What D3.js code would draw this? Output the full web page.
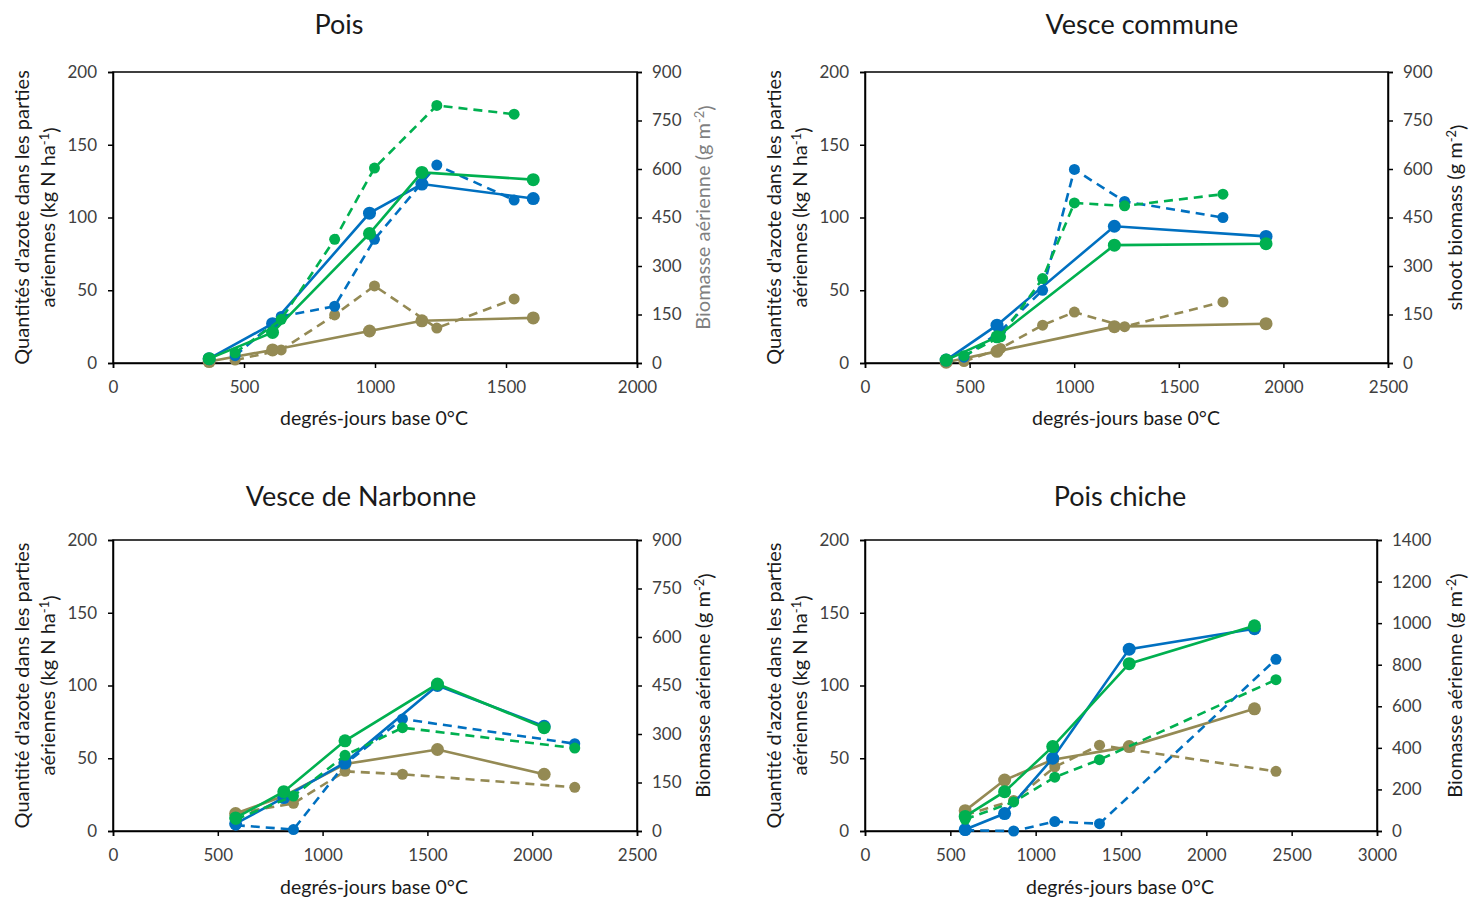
<!DOCTYPE html>
<html>
<head>
<meta charset="utf-8">
<script src="https://cdn.jsdelivr.net/npm/d3@7"></script>
<style>
  html, body { margin: 0; padding: 0; background: #fff; }
  svg { display: block; font-family: Lato, "Open Sans", "DejaVu Sans", sans-serif; }
</style>
</head>
<body>
<svg id="chart" width="1469" height="901"></svg>
<script>
// ---------------- DATA (values in left-axis units, kg N ha-1) ----------------
const titles = ["Pois", "Vesce commune", "Vesce de Narbonne", "Pois chiche"];
const xTickValues = [
  [0, 500, 1000, 1500, 2000],
  [0, 500, 1000, 1500, 2000, 2500],
  [0, 500, 1000, 1500, 2000, 2500],
  [0, 500, 1000, 1500, 2000, 2500, 3000]
];
const leftTicks = [0, 50, 100, 150, 200];
const rightTickValues = [
  [0, 150, 300, 450, 600, 750, 900],
  [0, 150, 300, 450, 600, 750, 900],
  [0, 150, 300, 450, 600, 750, 900],
  [0, 200, 400, 600, 800, 1000, 1200, 1400]
];

// Pois
const poisSolidX   = [367, 609, 979, 1179, 1604];
const poisBlueSolid  = [3, 27, 103, 123, 113];
const poisGreenSolid = [3, 21, 89, 131, 126];
const poisOliveSolid = [1, 9, 22, 29, 31];
const poisDashX    = [466, 642, 846, 998, 1236, 1531];
const poisBlueDash   = [5, 32, 39, 85, 136, 112];
const poisGreenDash  = [7, 30, 85, 134, 177, 171];
const poisOliveDash  = [2, 9, 33, 53, 24, 44];

// Vesce commune
const vcSolidX     = [388, 631, 1192, 1917];
const vcBlueSolid    = [2, 26, 94, 87];
const vcGreenSolid   = [2, 18, 81, 82];
const vcOliveSolid   = [0.5, 8, 25, 27];
const vcDashX      = [473, 648, 849, 1001, 1241, 1711];
const vcBlueDash     = [4, 22, 50, 133, 111, 100];
const vcGreenDash    = [5, 18, 58, 110, 108, 116];
const vcOliveDash    = [1, 10, 26, 35, 25, 42];

// Vesce de Narbonne
const vnSolidX     = [585, 815, 1107, 1548, 2057];
const vnBlueSolid    = [5, 23, 47, 100, 72];
const vnGreenSolid   = [9, 27, 62, 101, 71];
const vnOliveSolid   = [12, 24, 46, 56, 39];
const vnDashX      = [586, 861, 1107, 1381, 2203];
const vnBlueDash     = [4, 1, 46, 77, 60];
const vnGreenDash    = [8, 24, 52, 71, 57];
const vnOliveDash    = [12, 19, 41, 39, 30];

// Pois chiche
const pcSolidX     = [587, 818, 1100, 1548, 2282];
const pcBlueSolid    = [1, 12, 50, 125, 139];
const pcGreenSolid   = [10, 27, 58, 115, 141];
const pcOliveSolid   = [14, 35, 49, 58, 84];
const pcDashX      = [587, 871, 1112, 1374, 2408];
const pcBlueDash     = [0.5, 0, 6.5, 5, 118];
const pcGreenDash    = [8, 20, 37, 49, 104];
const pcOliveDash    = [11, 21, 44, 59, 41];

// ---------------- LAYOUT ----------------
const COL = { blue: "#0070C0", green: "#00B050", olive: "#948A54" };
const panelData = [
  { solidX: poisSolidX, dashX: poisDashX, blueS: poisBlueSolid, greenS: poisGreenSolid, oliveS: poisOliveSolid, blueD: poisBlueDash, greenD: poisGreenDash, oliveD: poisOliveDash },
  { solidX: vcSolidX, dashX: vcDashX, blueS: vcBlueSolid, greenS: vcGreenSolid, oliveS: vcOliveSolid, blueD: vcBlueDash, greenD: vcGreenDash, oliveD: vcOliveDash },
  { solidX: vnSolidX, dashX: vnDashX, blueS: vnBlueSolid, greenS: vnGreenSolid, oliveS: vnOliveSolid, blueD: vnBlueDash, greenD: vnGreenDash, oliveD: vnOliveDash },
  { solidX: pcSolidX, dashX: pcDashX, blueS: pcBlueSolid, greenS: pcGreenSolid, oliveS: pcOliveSolid, blueD: pcBlueDash, greenD: pcGreenDash, oliveD: pcOliveDash }
];
const layout = [
  { l: 113, r: 637, t: 72, b: 363, titleX: 339, titleY: 34, xtX: 374, xtY: 425,
    leftTitle: ["Quantités d'azote dans les parties", "aériennes (kg N ha"], ltX: 22, rightTitle: "Biomasse aérienne (g m", rtX: 703, rtColor: "#7f7f7f" },
  { l: 865, r: 1388, t: 72, b: 363, titleX: 1142, titleY: 34, xtX: 1126, xtY: 425,
    leftTitle: ["Quantités d'azote dans les parties", "aériennes (kg N ha"], ltX: 774, rightTitle: "shoot biomass (g m", rtX: 1455, rtColor: "#1a1a1a" },
  { l: 113, r: 637, t: 540, b: 831, titleX: 361, titleY: 506, xtX: 374, xtY: 894,
    leftTitle: ["Quantité d'azote dans les parties", "aériennes (kg N ha"], ltX: 22, rightTitle: "Biomasse aérienne (g m", rtX: 703, rtColor: "#1a1a1a" },
  { l: 865, r: 1377, t: 540, b: 831, titleX: 1120, titleY: 506, xtX: 1120, xtY: 894,
    leftTitle: ["Quantité d'azote dans les parties", "aériennes (kg N ha"], ltX: 774, rightTitle: "Biomasse aérienne (g m", rtX: 1455, rtColor: "#1a1a1a" }
];

const svg = d3.select("#chart");

layout.forEach((L, i) => {
  const D = panelData[i];
  const xt = xTickValues[i];
  const rt = rightTickValues[i];
  const x = d3.scaleLinear().domain([0, xt[xt.length - 1]]).range([L.l, L.r]);
  const y = d3.scaleLinear().domain([0, 200]).range([L.b, L.t]);
  const yR = d3.scaleLinear().domain([0, rt[rt.length - 1]]).range([L.b, L.t]);

  const g = svg.append("g");

  // frame
  g.append("rect").attr("x", L.l).attr("y", L.t).attr("width", L.r - L.l).attr("height", L.b - L.t)
    .attr("fill", "none").attr("stroke", "#000").attr("stroke-width", 1.5);

  const styleAxis = sel => {
    sel.select(".domain").attr("stroke", "#000").attr("stroke-width", 1.5);
    sel.selectAll(".tick line").attr("stroke", "#000").attr("stroke-width", 1.5);
    sel.selectAll(".tick text").attr("fill", "#404040").style("font-size", "17px")
      .style("font-family", "Lato, 'Open Sans', sans-serif");
  };

  g.append("g").attr("transform", `translate(0,${L.b})`)
    .call(d3.axisBottom(x).tickValues(xt).tickSize(5).tickPadding(13).tickFormat(d3.format("d")))
    .call(styleAxis);
  g.append("g").attr("transform", `translate(${L.l},0)`)
    .call(d3.axisLeft(y).tickValues(leftTicks).tickSize(5).tickPadding(11).tickFormat(d3.format("d")))
    .call(styleAxis);
  g.append("g").attr("transform", `translate(${L.r},0)`)
    .call(d3.axisRight(yR).tickValues(rt).tickSize(5).tickPadding(10).tickFormat(d3.format("d")))
    .call(styleAxis);

  // series
  const series = [
    { xs: D.dashX, ys: D.oliveD, c: COL.olive, dash: true },
    { xs: D.solidX, ys: D.oliveS, c: COL.olive, dash: false },
    { xs: D.dashX, ys: D.blueD, c: COL.blue, dash: true },
    { xs: D.solidX, ys: D.blueS, c: COL.blue, dash: false },
    { xs: D.dashX, ys: D.greenD, c: COL.green, dash: true },
    { xs: D.solidX, ys: D.greenS, c: COL.green, dash: false }
  ];
  const line = d3.line().x(d => x(d[0])).y(d => y(d[1]));
  series.forEach(s => {
    const pts = s.xs.map((v, k) => [v, s.ys[k]]);
    g.append("path").datum(pts).attr("d", line).attr("fill", "none")
      .attr("stroke", s.c).attr("stroke-width", 2.6)
      .attr("stroke-dasharray", s.dash ? "9,6" : null);
    g.selectAll(null).data(pts).enter().append("circle")
      .attr("cx", d => x(d[0])).attr("cy", d => y(d[1]))
      .attr("r", s.dash ? 5.5 : 6.5).attr("fill", s.c);
  });

  // titles
  svg.append("text").attr("x", L.titleX).attr("y", L.titleY).attr("text-anchor", "middle")
    .style("font-size", "27px").attr("fill", "#1a1a1a").text(titles[i]);
  svg.append("text").attr("x", L.xtX).attr("y", L.xtY).attr("text-anchor", "middle")
    .style("font-size", "19.5px").attr("fill", "#1a1a1a").text("degrés-jours base 0°C");

  const cy = (L.t + L.b) / 2;
  const lt = svg.append("text").attr("transform", `translate(${L.ltX},${cy}) rotate(-90)`)
    .attr("text-anchor", "middle").style("font-size", "20px").attr("fill", "#1a1a1a");
  lt.append("tspan").attr("x", 0).attr("dy", "0.35em").text(L.leftTitle[0]);
  const l2 = lt.append("tspan").attr("x", 0).attr("dy", "1.3em");
  l2.append("tspan").text(L.leftTitle[1]);
  l2.append("tspan").attr("dy", "-0.45em").style("font-size", "13px").text("-1");
  l2.append("tspan").attr("dy", "0.45em").text(")");

  const rtt = svg.append("text").attr("transform", `translate(${L.rtX},${cy}) rotate(-90)`)
    .attr("text-anchor", "middle").attr("dy", "0.35em").style("font-size", "20px").attr("fill", L.rtColor);
  rtt.append("tspan").text(L.rightTitle);
  rtt.append("tspan").attr("dy", "-0.45em").style("font-size", "13px").text("-2");
  rtt.append("tspan").attr("dy", "0.45em").text(")");
});
</script>
</body>
</html>
